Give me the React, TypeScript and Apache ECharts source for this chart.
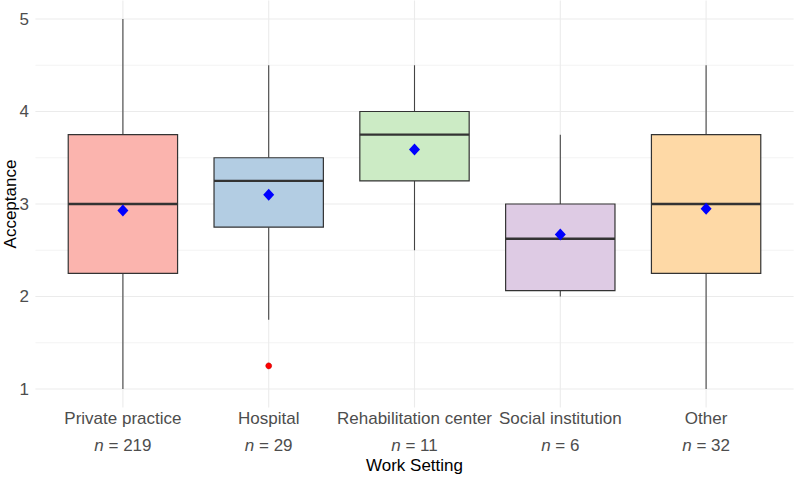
import React, { useEffect, useRef } from "react";
import * as echarts from "echarts";

// Work settings and group sizes
const categories = [
  "Private practice",
  "Hospital",
  "Rehabilitation center",
  "Social institution",
  "Other",
];
const groupSizes = [219, 29, 11, 6, 32];

// Five-number summaries (whisker ends, quartiles, median)
const whiskerLow = [1, 1.75, 2.5, 2.0, 1];
const lowerQuartile = [2.25, 2.75, 3.25, 2.0625, 2.25];
const medians = [3, 3.25, 3.75, 2.625, 3];
const upperQuartile = [3.75, 3.5, 4.0, 3.0, 3.75];
const whiskerHigh = [5, 4.5, 4.5, 3.75, 4.5];

// Group means and outlying observations
const means = [2.93, 3.1, 3.59, 2.67, 2.95];
const outliers: [number, number][] = [[1, 1.25]];

// Axis ticks
const yMajorTicks = [1, 2, 3, 4, 5];
const yMinorTicks = [1.5, 2.5, 3.5, 4.5];

const fills = ["#FBB4AE", "#B3CDE3", "#CCEBC5", "#DECBE4", "#FED9A6"];
const FONT = "'Liberation Sans', Arial, sans-serif";
const TEXT_GREY = "#4d4d4d";

// ggplot-like padding of the panel beyond the data range
const Y_PAD = 0.2; // value units
const X_PAD = 0.1; // category bands beyond the half-band

export default function App() {
  const ref = useRef<HTMLDivElement>(null);

  useEffect(() => {
    if (!ref.current) return;
    const chart = echarts.init(ref.current, undefined, { renderer: "svg" });

    const boxData = categories.map((_, i) => [
      i,
      whiskerLow[i],
      lowerQuartile[i],
      medians[i],
      upperQuartile[i],
      whiskerHigh[i],
    ]);

    const hLines = [
      ...yMajorTicks.map((v) => [0, v, 1]),
      ...yMinorTicks.map((v) => [0, v, 0]),
    ];
    const vLines = categories.map((_, i) => [i, yMajorTicks[0]]);

    const option: any = {
      animation: false,
      textStyle: { fontFamily: FONT },
      grid: {
        left: 50,
        right: 15,
        top: 19,
        bottom: 88,
        containLabel: false,
        outerBoundsMode: "none",
      },
      xAxis: {
        type: "category",
        data: categories,
        boundaryGap: true,
        name: "Work Setting",
        nameLocation: "middle",
        nameGap: 68,
        nameMoveOverlap: false,
        nameTextStyle: { color: "#000", fontSize: 17, fontFamily: FONT },
        axisLine: { show: false },
        axisTick: { show: false },
        splitLine: { show: false },
        axisLabel: {
          interval: 0,
          hideOverlap: false,
          margin: 16,
          formatter: (value: string, idx: number) =>
            `{t|${value}}\n{i|n}{e| = ${groupSizes[idx]}}`,
          rich: {
            t: { fontSize: 17, color: TEXT_GREY, lineHeight: 27, fontFamily: FONT },
            i: {
              fontSize: 17,
              color: TEXT_GREY,
              lineHeight: 27,
              fontStyle: "italic",
              fontFamily: FONT,
            },
            e: { fontSize: 17, color: TEXT_GREY, lineHeight: 27, fontFamily: FONT },
          },
        },
      },
      yAxis: {
        type: "value",
        min: 1,
        max: 5,
        interval: 1,
        name: "Acceptance",
        nameLocation: "middle",
        nameGap: 31,
        nameMoveOverlap: false,
        nameTextStyle: { color: "#000", fontSize: 17, fontFamily: FONT },
        axisLine: { show: false },
        axisTick: { show: false },
        splitLine: { show: false },
        axisLabel: { color: TEXT_GREY, fontSize: 17, margin: 21, fontFamily: FONT },
      },
      series: [
        // horizontal panel grid lines
        {
          type: "custom",
          z: 1,
          silent: true,
          data: hLines,
          encode: { x: 0, y: 1 },
          renderItem: (params: any, api: any) => {
            const cs = params.coordSys;
            const band = api.size([1, 0])[0];
            const y = api.coord([0, api.value(1)])[1];
            const major = api.value(2) === 1;
            return {
              type: "line",
              shape: {
                x1: cs.x - X_PAD * band,
                y1: y,
                x2: cs.x + cs.width + X_PAD * band,
                y2: y,
              },
              style: { stroke: major ? "#ebebeb" : "#f2f2f2", lineWidth: major ? 1.1 : 0.9 },
            };
          },
        },
        // vertical panel grid lines at the categories
        {
          type: "custom",
          z: 1,
          silent: true,
          data: vLines,
          encode: { x: 0, y: 1 },
          renderItem: (params: any, api: any) => {
            const i = api.value(0);
            const top = api.coord([i, yMajorTicks[yMajorTicks.length - 1] + Y_PAD]);
            const bottom = api.coord([i, yMajorTicks[0] - Y_PAD]);
            return {
              type: "line",
              shape: { x1: top[0], y1: top[1], x2: bottom[0], y2: bottom[1] },
              style: { stroke: "#ebebeb", lineWidth: 1.1 },
            };
          },
        },
        // box-and-whisker glyphs
        {
          type: "custom",
          z: 2,
          data: boxData,
          encode: { x: 0, y: [1, 2, 3, 4, 5] },
          renderItem: (params: any, api: any) => {
            const i = api.value(0);
            const lo = api.coord([i, api.value(1)]);
            const q1 = api.coord([i, api.value(2)]);
            const md = api.coord([i, api.value(3)]);
            const q3 = api.coord([i, api.value(4)]);
            const hi = api.coord([i, api.value(5)]);
            const band = api.size([1, 0])[0];
            const w = band * 0.75;
            const x = lo[0];
            const edge = "#333333";
            return {
              type: "group",
              children: [
                {
                  type: "line",
                  shape: { x1: x, y1: hi[1], x2: x, y2: q3[1] },
                  style: { stroke: "#444444", lineWidth: 1.1 },
                },
                {
                  type: "line",
                  shape: { x1: x, y1: q1[1], x2: x, y2: lo[1] },
                  style: { stroke: "#444444", lineWidth: 1.1 },
                },
                {
                  type: "rect",
                  shape: { x: x - w / 2, y: q3[1], width: w, height: q1[1] - q3[1] },
                  style: { fill: fills[i], stroke: edge, lineWidth: 1.2 },
                },
                {
                  type: "line",
                  shape: { x1: x - w / 2, y1: md[1], x2: x + w / 2, y2: md[1] },
                  style: { stroke: edge, lineWidth: 2.4 },
                },
              ],
            };
          },
        },
        // outliers
        {
          type: "scatter",
          z: 3,
          data: outliers,
          symbol: "circle",
          symbolSize: 6,
          itemStyle: { color: "#ff0000", borderColor: "#b00000", borderWidth: 0.5, opacity: 1 },
        },
        // group means
        {
          type: "scatter",
          z: 4,
          data: means.map((m, i) => [i, m]),
          symbol: "diamond",
          symbolSize: [11, 12],
          itemStyle: { color: "#0000ff", opacity: 1 },
        },
      ],
    };

    chart.setOption(option);
    return () => chart.dispose();
  }, []);

  return (
    <div
      ref={ref}
      style={{ position: "fixed", left: 0, top: 0, width: 794, height: 477, background: "#fff" }}
    />
  );
}
